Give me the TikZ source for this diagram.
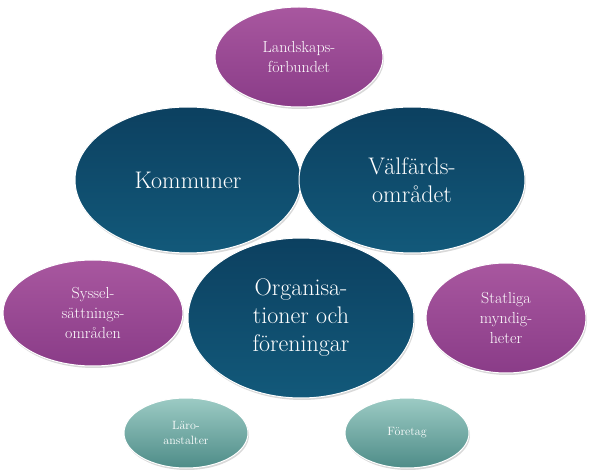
\documentclass[tikz,border=0pt]{standalone}
\usetikzlibrary{shapes.geometric,shadows}
\definecolor{pT}{HTML}{A8579F}\definecolor{pB}{HTML}{8A3C88}
\definecolor{dT}{HTML}{0C4060}\definecolor{dB}{HTML}{12597A}
\definecolor{lT}{HTML}{9CCBC4}\definecolor{lB}{HTML}{4E8C88}
\begin{document}
\begin{tikzpicture}[x=1pt,y=-1pt,
 el/.style={ellipse,draw=white,line width=1pt,align=center,text=white,inner sep=0pt,drop shadow={opacity=0.3,shadow xshift=1pt,shadow yshift=-2pt}},
 purp/.style={el,top color=pT,bottom color=pB,font=\fontsize{16}{20}\selectfont},
 dark/.style={el,top color=dT,bottom color=dB,font=\fontsize{24}{28}\selectfont},
 light/.style={el,top color=lT,bottom color=lB,font=\fontsize{12}{15}\selectfont}]
\useasboundingbox (0,0) rectangle (600,470);
\node[purp,minimum width=168,minimum height=100] (l) at (299,57) {Landskaps-\\förbundet};
\node[dark,minimum width=226,minimum height=146] (k) at (188,180) {Kommuner};
\node[dark,minimum width=226,minimum height=146] (v) at (412,180) {Välfärds-\\området};
\node[purp,minimum width=180,minimum height=106] (s) at (93,313) {Syssel-\\sättnings-\\områden};
\node[purp,minimum width=160,minimum height=110] (st) at (506,318) {Statliga\\myndig-\\heter};
\node[dark,minimum width=226,minimum height=160] (o) at (301,318) {Organisa-\\tioner och\\föreningar};
\node[light,minimum width=124,minimum height=70] (la) at (186,433) {Läro-\\anstalter};
\node[light,minimum width=124,minimum height=70] (f) at (407,433) {Företag};
\end{tikzpicture}
\end{document}
